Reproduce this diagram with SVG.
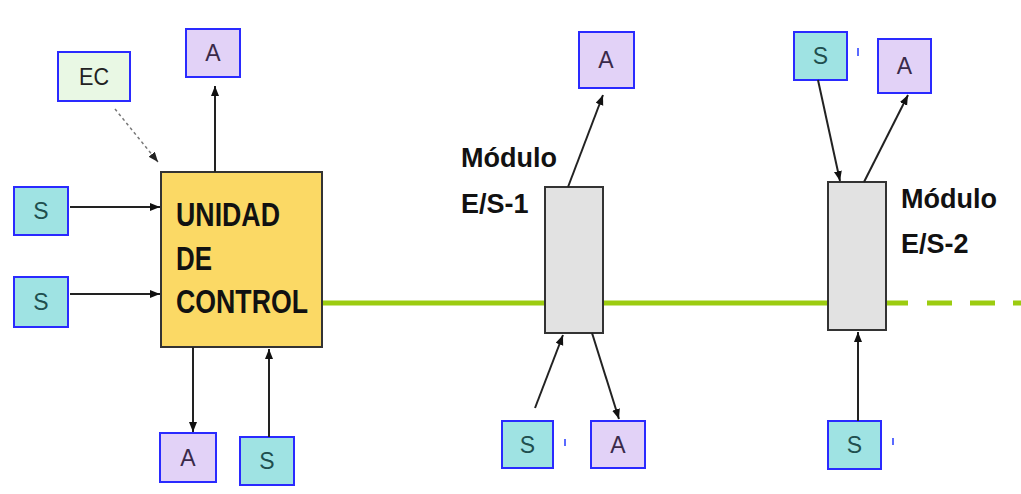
<svg xmlns="http://www.w3.org/2000/svg" width="1021" height="494" viewBox="0 0 1021 494">
<defs>
<marker id="ah" markerUnits="userSpaceOnUse" markerWidth="11" markerHeight="9" refX="10" refY="4" orient="auto"><path d="M0,0 L10,4 L0,8 z" fill="#111"/></marker>
<marker id="ahg" markerUnits="userSpaceOnUse" markerWidth="11" markerHeight="9" refX="10" refY="4" orient="auto"><path d="M0,0 L10,4 L0,8 z" fill="#222"/></marker>
<style>
.s{fill:#9fe3e3;stroke:#2a2aff;stroke-width:2}
.a{fill:#e2d2f7;stroke:#2a2aff;stroke-width:2}
.ec{fill:#e9f8e4;stroke:#2a2aff;stroke-width:2}
.t{font-family:"Liberation Sans",Arial,sans-serif;font-size:23px;text-anchor:middle}
.ts{fill:#1f4f4f}
.ta{fill:#3a2a4a}
.mod{fill:#e2e2e2;stroke:#333;stroke-width:2}
.lbl{font-family:"Liberation Sans",Arial,sans-serif;font-weight:bold;font-size:27px;fill:#111}
.uc{font-family:"Liberation Sans",Arial,sans-serif;font-weight:bold;font-size:34px;fill:#111}
.c{stroke:#222;stroke-width:2;fill:none;marker-end:url(#ah)}
.tick{stroke:#5a6aff;stroke-width:2}
</style>
</defs>
<rect width="1021" height="494" fill="#ffffff"/>
<g id="bus">
<line x1="322" y1="303" x2="908" y2="303" stroke="#9ccc10" stroke-width="5"/>
<line x1="927" y1="303" x2="1021" y2="303" stroke="#9ccc10" stroke-width="5" stroke-dasharray="25 18"/>
</g>
<g id="unidad">
<rect x="161" y="172" width="161" height="175" fill="#fbd965" stroke="#333" stroke-width="2"/>
<text class="uc" x="176" y="226" textLength="104" lengthAdjust="spacingAndGlyphs">UNIDAD</text>
<text class="uc" x="176" y="270" textLength="36" lengthAdjust="spacingAndGlyphs">DE</text>
<text class="uc" x="176" y="313" textLength="132" lengthAdjust="spacingAndGlyphs">CONTROL</text>
</g>
<g id="modulo1">
<rect class="mod" x="545" y="187" width="58" height="146"/>
<text class="lbl" x="461" y="167">Módulo</text>
<text class="lbl" x="461" y="213">E/S-1</text>
</g>
<g id="modulo2">
<rect class="mod" x="828" y="182" width="58" height="148"/>
<text class="lbl" x="901" y="208">Módulo</text>
<text class="lbl" x="901" y="253">E/S-2</text>
</g>
<g id="ec"><rect class="ec" x="58" y="52" width="72" height="49"/><text class="t" x="94" y="85" fill="#222" textLength="30" lengthAdjust="spacingAndGlyphs">EC</text></g>
<g id="a-top"><rect class="a" x="186" y="29" width="54" height="48"/><text class="t ta" x="213" y="61">A</text></g>
<g id="s1"><rect class="s" x="14" y="187" width="54" height="48"/><text class="t ts" x="41" y="219">S</text></g>
<g id="s2"><rect class="s" x="14" y="277" width="54" height="50"/><text class="t ts" x="41" y="310">S</text></g>
<g id="a-bottom"><rect class="a" x="160" y="433" width="56" height="49"/><text class="t ta" x="188" y="466">A</text></g>
<g id="s-bottom"><rect class="s" x="240" y="437" width="54" height="48"/><text class="t ts" x="267" y="469">S</text></g>
<g id="a-m1-top"><rect class="a" x="579" y="32" width="55" height="56"/><text class="t ta" x="606" y="68">A</text></g>
<g id="s-m1"><rect class="s" x="502" y="421" width="51" height="47"/><text class="t ts" x="527.5" y="453">S</text><line class="tick" x1="565" y1="439" x2="565" y2="446"/></g>
<g id="a-m1"><rect class="a" x="591" y="421" width="54" height="47"/><text class="t ta" x="618" y="453">A</text></g>
<g id="s-m2-top"><rect class="s" x="794" y="32" width="53" height="48"/><text class="t ts" x="820.5" y="64">S</text><line class="tick" x1="858" y1="48" x2="858" y2="56"/></g>
<g id="a-m2-top"><rect class="a" x="878" y="39" width="53" height="54"/><text class="t ta" x="904.5" y="74">A</text></g>
<g id="s-m2-bottom"><rect class="s" x="828" y="421" width="53" height="48"/><text class="t ts" x="854.5" y="453">S</text><line class="tick" x1="893" y1="438" x2="893" y2="445"/></g>
<g id="connectors">
<line x1="115" y1="109" x2="158" y2="162" stroke="#777" stroke-width="1.5" stroke-dasharray="3 3" marker-end="url(#ahg)"/>
<line class="c" x1="215" y1="172" x2="215" y2="86"/>
<line class="c" x1="70" y1="207" x2="160" y2="207"/>
<line class="c" x1="70" y1="294" x2="160" y2="294"/>
<line class="c" x1="193" y1="347" x2="193" y2="432"/>
<line class="c" x1="269" y1="437" x2="269" y2="349"/>
<line class="c" x1="568" y1="187" x2="603" y2="95"/>
<line class="c" x1="535" y1="408" x2="563" y2="335"/>
<line class="c" x1="592" y1="333" x2="619" y2="419"/>
<line class="c" x1="818" y1="80" x2="840" y2="181"/>
<line class="c" x1="864" y1="182" x2="908" y2="95"/>
<line class="c" x1="858" y1="421" x2="858" y2="332"/>
</g>
</svg>
